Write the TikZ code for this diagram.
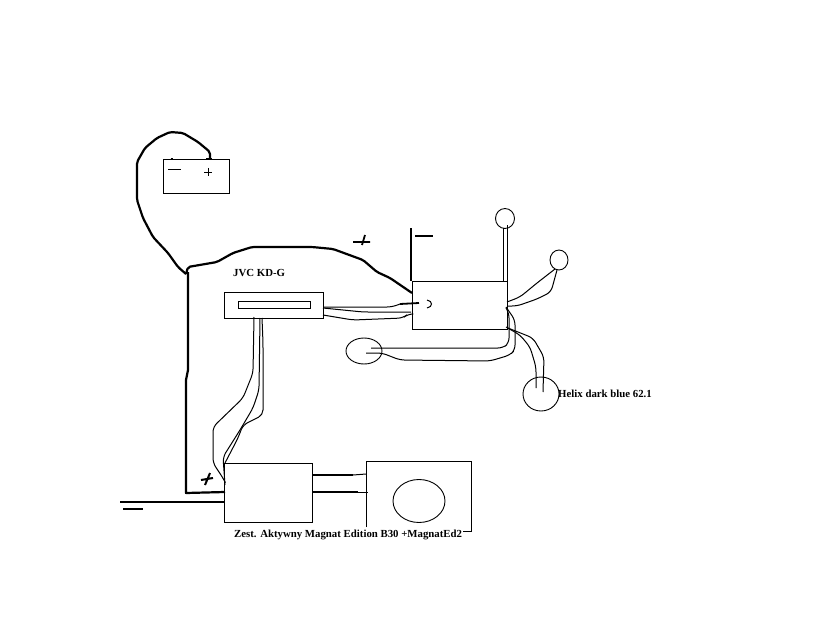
\documentclass[tikz,border=0pt]{standalone}
\usepackage{fontspec}
\setmainfont{Liberation Serif}
\usetikzlibrary{shapes.geometric}
\tikzset{
  x=1pt,y=-1pt,
  box/.style={draw=black,line width=1pt,rectangle,inner sep=0pt,outer sep=0pt},
  spk/.style={draw=black,line width=0.9pt,ellipse,inner sep=0pt,outer sep=0pt},
  wire/.style={draw=black,line width=1pt,rounded corners=5pt,line join=round},
  power/.style={draw=black,line width=2.2pt,rounded corners=2pt,line join=round},
  mark stroke/.style={draw=black,line width=1.8pt},
  thin stroke/.style={draw=black,line width=1pt},
  lab/.style={inner sep=0pt,font=\fontsize{10.8}{12}\selectfont\bfseries},
}
\begin{document}
\begin{tikzpicture}
\useasboundingbox (0,0) rectangle (830,623);
\fill[white] (0,0) rectangle (830,623);
% nodes
\node[box,minimum width=66pt,minimum height=33pt] (bat) at (196,176.5) {};
\node[box,minimum width=99pt,minimum height=26pt] (head) at (273.5,305) {};
\node[box,minimum width=72pt,minimum height=7pt] (slot) at (274,304.5) {};
\node[box,minimum width=95pt,minimum height=48pt] (amp) at (459.5,305) {};
\node[box,minimum width=88pt,minimum height=59pt] (sub) at (268,492.5) {};
\node[spk,minimum width=52pt,minimum height=43pt] (cone) at (419,501) {};
\node[spk,minimum width=19pt,minimum height=20pt] (s1) at (505,218.5) {};
\node[spk,minimum width=18pt,minimum height=20pt] (s2) at (559,260) {};
\node[spk,minimum width=36pt,minimum height=26pt] (s3) at (364,351) {};
\node[spk,minimum width=36pt,minimum height=34pt] (s4) at (541,394) {};
% labels
\node[lab,anchor=west] (l1) at (233,273) {JVC KD-G};
\node[lab,anchor=west] (l2) at (558,393.5) {Helix dark blue 62.1};
\node[lab,anchor=west] (l3) at (234,534.5) {Zest. Aktywny Magnat Edition B30 +MagnatEd2};
% terminals
\coordinate (batp) at (210,158);
\coordinate (j) at (186,274);
\coordinate (ampp) at (412,293);
\coordinate (subp) at (225,492);
\coordinate (gnd) at (120,502);
\coordinate (subg) at (224,502);
\coordinate (ampgt) at (411,228);
\coordinate (ampgb) at (411,281);
% sub box outline
\coordinate (bx1) at (366,527);
\coordinate (bx2) at (366,461);
\coordinate (bx3) at (471,461);
\coordinate (bx4) at (471,531);
\coordinate (bx5) at (463,531);
\draw[thin stroke] (bx1) -- (bx2) -- (bx3) -- (bx4) -- (bx5);
% battery studs and signs
\draw[mark stroke] (170.5,158.5) -- (172.5,158.5);
\draw[draw=black,line width=2.6pt] (206,159) -- (212,159);
\draw[thin stroke] (168,169.5) -- (181,169.5);
\draw[thin stroke] (204,172.5) -- (212,172.5) (208,168) -- (208,176);
% power wiring
\draw[power] (batp) -- (210,152) -- (198,142) -- (183,133) -- (170,132) -- (157,138) -- (145,148) -- (137,162) -- (137,200) -- (143,218) -- (153,237) -- (168,253) -- (178,267) -- (j);
\draw[power] (j) -- (188,267) -- (217,262) -- (233,253) -- (252,247) -- (312,247) -- (333,249) -- (363,260) -- (377,272) -- (390,278) -- (ampp);
\draw[power,rounded corners=0pt] (188,272) -- (188,370) -- (186,380) -- (186,493) -- (subp);
\draw[power] (gnd) -- (subg);
\draw[power] (ampgt) -- (ampgb);
% signs
\draw[mark stroke] (353,242) -- (370,242) (365,235) -- (362,245);
\draw[mark stroke] (415,236) -- (433,236);
\draw[mark stroke] (123,509) -- (143,509);
\draw[line width=2pt] (201,480) -- (213,478) (210,473) -- (205,485);
% input
\draw[draw=black,line width=1.8pt] (400,304) -- (419,303);
\draw[thin stroke] (427,300) .. controls (433,301) and (433,307) .. (427,308);
% head to amp
\draw[wire] (head.east |- 0,307) -- (392,307) -- (400,304);
\draw[wire] (head.east |- 0,308) -- (363,312) -- (411,312);
\draw[wire] (head.east |- 0,315) -- (353,320) -- (403,318) -- (408,314) -- (412,314);
% speakers
\draw[wire] (503,228) -- (503,281);
\draw[wire] (507,225) -- (507,290);
\draw[wire] (507,302) -- (520,297) -- (537,283) -- (555,269);
\draw[wire] (507,306) -- (517,306) -- (537,299) -- (551,292) -- (557,270);
\draw[wire] (371,348) -- (503,348) -- (509,343) -- (509,313) -- (506,308);
\draw[wire] (366,353) -- (382,353) -- (400,360) -- (490,361) -- (510,355) -- (515,350) -- (515,320) -- (506,307);
\draw[wire] (506,327) -- (520,335) -- (530,347) -- (536,367) -- (536,388);
\draw[wire] (508,328) -- (533,338) -- (544,357) -- (543,392);
% head to sub amp
\draw[wire] (254,317) -- (253,373) -- (243,398) -- (213,427) -- (213,463) -- (223,478) -- (225,482);
\draw[wire] (260,318) -- (259,390) -- (253,408) -- (240,430) -- (223,457) -- (225,485);
\draw[wire] (262,318) -- (263,343) -- (263,415) -- (243,425) -- (238,438) -- (225,463);
% sub amp to enclosure
\draw[draw=black,line width=1.8pt] (313,475) -- (353,475);
\draw[thin stroke] (353,475) -- (366,474);
\draw[draw=black,line width=1.8pt] (312,492) -- (358,492);
\draw[thin stroke] (358,492) -- (368,492);
\end{tikzpicture}
\end{document}
